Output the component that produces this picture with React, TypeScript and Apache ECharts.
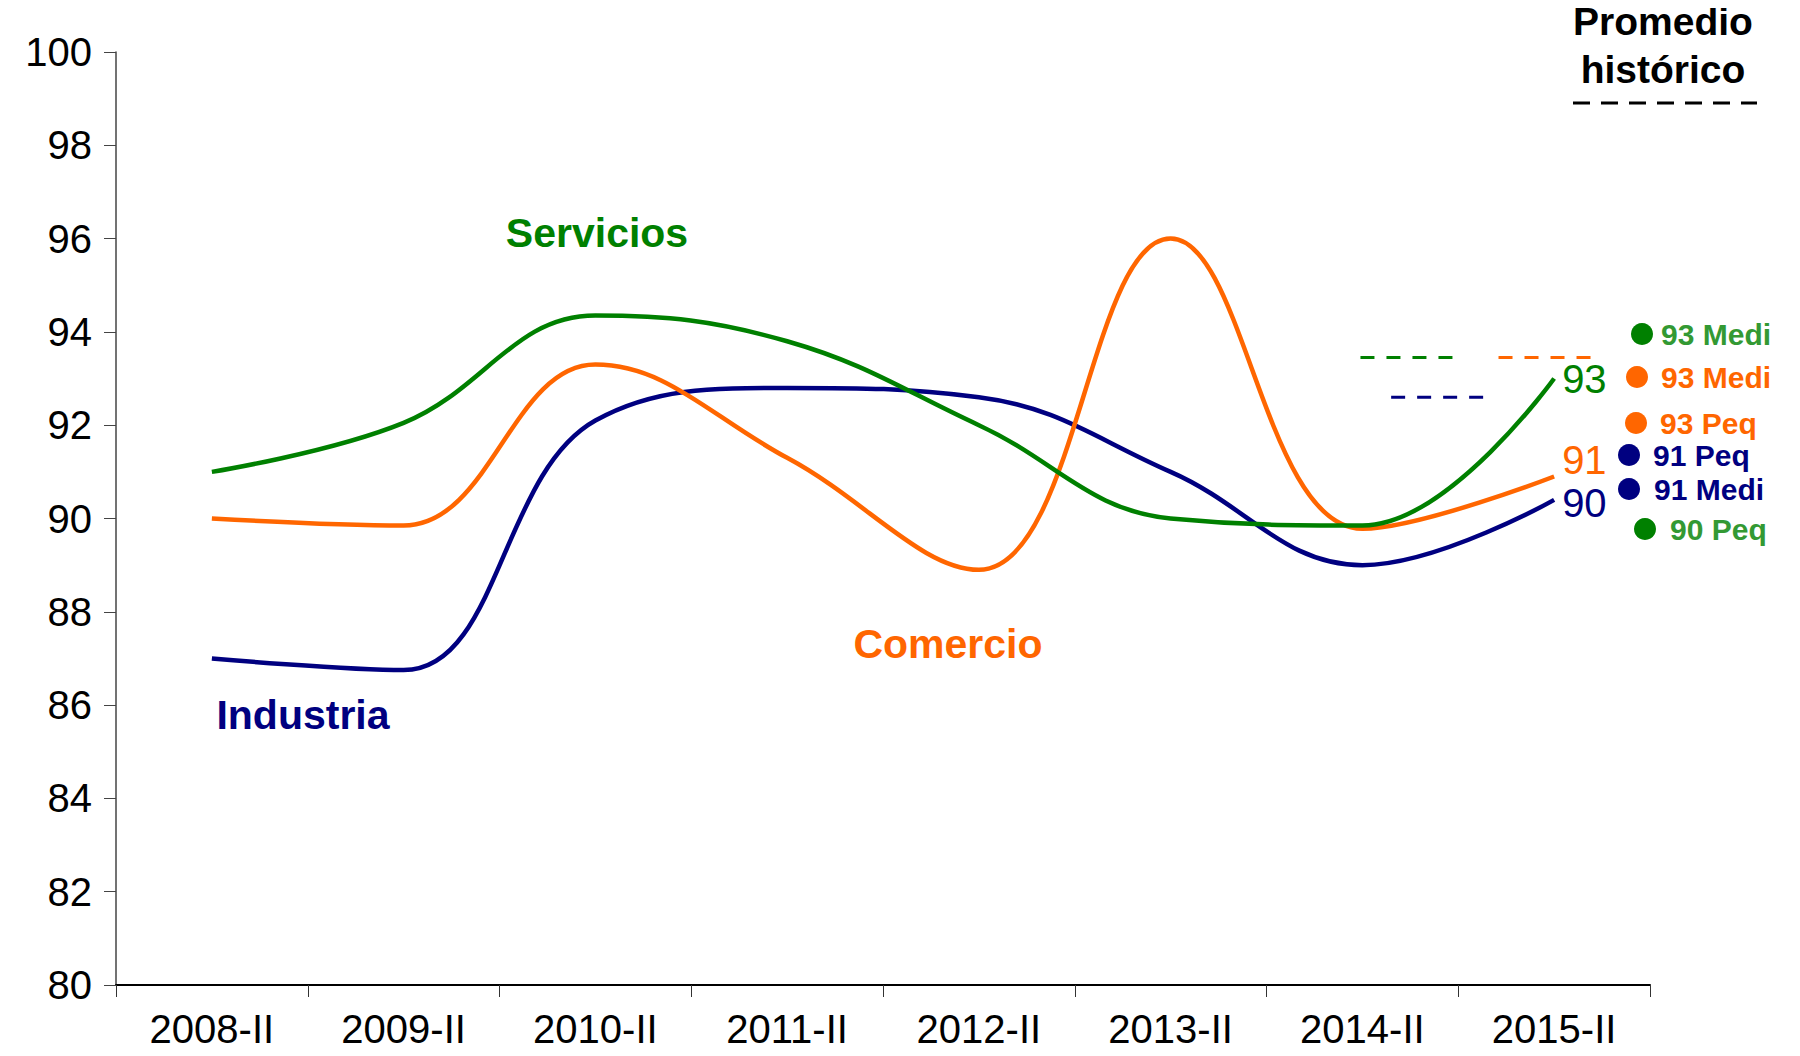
import React, { useEffect, useRef } from "react";
import * as echarts from "echarts";

const categories = ["2008-II", "2009-II", "2010-II", "2011-II", "2012-II", "2013-II", "2014-II", "2015-II"];
const industria = [87.0, 86.75, 92.1, 92.8, 92.6, 91.0, 89.0, 90.4];
const comercio = [90.0, 89.85, 93.3, 91.3, 88.9, 96.0, 89.78, 90.9];
const servicios = [91.0, 92.05, 94.35, 93.8, 92.0, 90.0, 89.85, 93.0];

// Historical averages (dashed), positioned on a 0..8 helper axis matching the category bands
const histServicios = [[6.49, 93.45], [7.03, 93.45]];
const histComercio = [[7.21, 93.45], [7.73, 93.45]];
const histIndustria = [[6.65, 92.6], [7.18, 92.6]];

const sideNotes = [
  { text: "93 Medi", dot: "#008000", color: "#339933", dx: 1642, tx: 1661, y: 334 },
  { text: "93 Medi", dot: "#FF6600", color: "#FF6600", dx: 1637, tx: 1661, y: 377 },
  { text: "93 Peq", dot: "#FF6600", color: "#FF6600", dx: 1636, tx: 1660, y: 423 },
  { text: "91 Peq", dot: "#000080", color: "#000080", dx: 1629, tx: 1653, y: 455 },
  { text: "91 Medi", dot: "#000080", color: "#000080", dx: 1629, tx: 1654, y: 489 },
  { text: "90 Peq", dot: "#008000", color: "#339933", dx: 1645, tx: 1670, y: 529 },
];

const GREEN = "#008000";
const ORANGE = "#FF6600";
const NAVY = "#000080";
const FONT = "Liberation Sans, Arial, sans-serif";

export default function App() {
  const ref = useRef<HTMLDivElement>(null);
  useEffect(() => {
    if (!ref.current) return;
    const chart = echarts.init(ref.current, null, { renderer: "svg" });
    const lineSeries = (name: string, data: number[], color: string, offset: number[]) => ({
      name,
      type: "line",
      data,
      smooth: 0.4,
      symbol: "none",
      lineStyle: { color, width: 4.5 },
      itemStyle: { color },
      endLabel: {
        show: true,
        formatter: (p: any) => String(Math.round(p.value)),
        color,
        fontSize: 40,
        fontFamily: FONT,
        distance: 8,
        offset,
      },
      z: 3,
    });
    const dashSeries = (data: number[][], color: string) => ({
      type: "line",
      xAxisIndex: 1,
      data,
      symbol: "none",
      lineStyle: { color, width: 3, type: [14, 12] },
      z: 2,
    });
    const option: any = {
      animation: false,
      backgroundColor: "#fff",
      grid: { left: 116, right: 150, top: 52, bottom: 71, containLabel: false },
      xAxis: [
        {
          type: "category",
          data: categories,
          boundaryGap: true,
          axisLine: { lineStyle: { color: "#000", width: 2 } },
          axisTick: { show: true, length: 12, lineStyle: { color: "#333", width: 1 } },
          axisLabel: { color: "#000", fontSize: 40, fontFamily: FONT, margin: 24 },
        },
        { type: "value", min: 0, max: 8, show: false },
      ],
      yAxis: {
        type: "value",
        min: 80,
        max: 100,
        interval: 2,
        axisLine: { show: true, lineStyle: { color: "#444", width: 1.5 } },
        axisTick: { show: true, length: 12, lineStyle: { color: "#444" } },
        splitLine: { show: false },
        axisLabel: { color: "#000", fontSize: 40, fontFamily: FONT, margin: 24 },
      },
      series: [
        lineSeries("Industria", industria, NAVY, [0, 3]),
        lineSeries("Comercio", comercio, ORANGE, [0, -17]),
        lineSeries("Servicios", servicios, GREEN, [0, 0]),
        dashSeries(histServicios, GREEN),
        dashSeries(histComercio, ORANGE),
        dashSeries(histIndustria, NAVY),
      ],
      graphic: [
        { type: "text", x: 1663, y: 21, style: { text: "Promedio", align: "center", verticalAlign: "middle", fontSize: 39, fontWeight: "bold", fontFamily: FONT, fill: "#000" } },
        { type: "text", x: 1663, y: 69, style: { text: "histórico", align: "center", verticalAlign: "middle", fontSize: 39, fontWeight: "bold", fontFamily: FONT, fill: "#000" } },
        { type: "line", shape: { x1: 1573, y1: 103, x2: 1757, y2: 103 }, style: { stroke: "#000", lineWidth: 3, lineDash: [17, 11] } },
        { type: "text", x: 597, y: 233, style: { text: "Servicios", align: "center", verticalAlign: "middle", fontSize: 41, fontWeight: "bold", fontFamily: FONT, fill: GREEN } },
        { type: "text", x: 948, y: 644, style: { text: "Comercio", align: "center", verticalAlign: "middle", fontSize: 41, fontWeight: "bold", fontFamily: FONT, fill: ORANGE } },
        { type: "text", x: 303, y: 715, style: { text: "Industria", align: "center", verticalAlign: "middle", fontSize: 41, fontWeight: "bold", fontFamily: FONT, fill: NAVY } },
        ...sideNotes.flatMap((n) => [
          { type: "circle", shape: { cx: n.dx, cy: n.y, r: 11 }, style: { fill: n.dot } },
          { type: "text", x: n.tx, y: n.y, style: { text: n.text, align: "left", verticalAlign: "middle", fontSize: 30, fontWeight: "bold", fontFamily: FONT, fill: n.color } },
        ]),
      ],
    };
    chart.setOption(option);
    return () => chart.dispose();
  }, []);
  return <div ref={ref} style={{ width: 1800, height: 1056, margin: -8 }} />;
}
